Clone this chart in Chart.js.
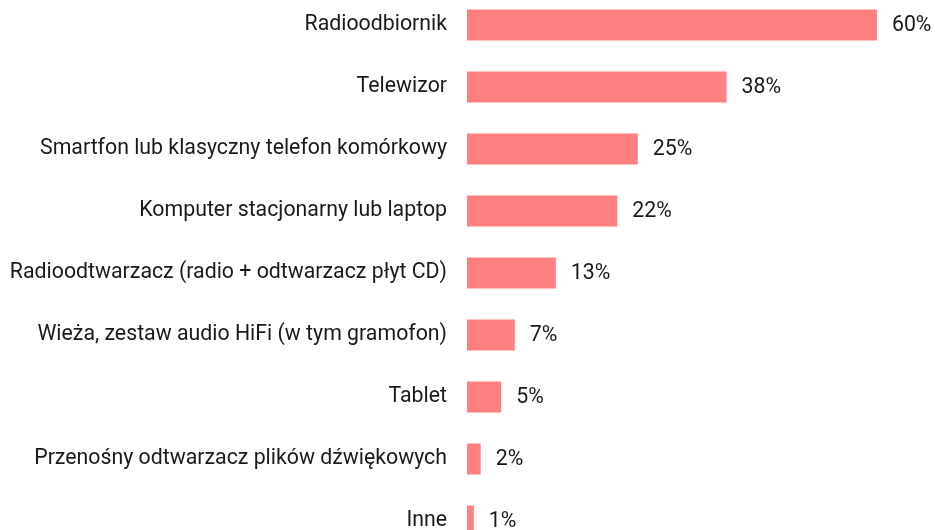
<!DOCTYPE html>
<html>
<head>
<meta charset="utf-8">
<script src="https://cdn.jsdelivr.net/npm/chart.js@4"></script>
<style>
  html, body { margin: 0; padding: 0; background: #fff; overflow: hidden; width: 935px; height: 530px; }
  #wrap { position: absolute; left: 0; top: -6.5px; width: 935px; height: 558px; }
  canvas { display: block; }
</style>
</head>
<body>
<div id="wrap"><canvas id="chart" width="935" height="558"></canvas></div>
<script>
const categories = [
  'Radioodbiornik',
  'Telewizor',
  'Smartfon lub klasyczny telefon komórkowy',
  'Komputer stacjonarny lub laptop',
  'Radioodtwarzacz (radio + odtwarzacz płyt CD)',
  'Wieża, zestaw audio HiFi (w tym gramofon)',
  'Tablet',
  'Przenośny odtwarzacz plików dźwiękowych',
  'Inne'
];
const shares = [60, 38, 25, 22, 13, 7, 5, 2, 1];

const BAR_COLOR = '#FF8080';
const TEXT_COLOR = '#1a1a1a';
const FONT = 'Roboto, "Noto Sans", sans-serif';
const FONT_SIZE = 21.3;

// draws "NN%" right after each bar end
const valueLabels = {
  id: 'valueLabels',
  afterDatasetsDraw(chart) {
    const ctx = chart.ctx;
    const meta = chart.getDatasetMeta(0);
    ctx.save();
    ctx.font = FONT_SIZE + 'px ' + FONT;
    ctx.fillStyle = TEXT_COLOR;
    ctx.textAlign = 'left';
    ctx.textBaseline = 'middle';
    meta.data.forEach((bar, i) => {
      ctx.fillText(shares[i] + '%', bar.x + 15, bar.y + 1);
    });
    ctx.restore();
  }
};

new Chart(document.getElementById('chart'), {
  type: 'bar',
  data: {
    labels: categories,
    datasets: [{
      data: shares,
      backgroundColor: BAR_COLOR,
      borderWidth: 0,
      barPercentage: 1,
      categoryPercentage: 0.5
    }]
  },
  options: {
    indexAxis: 'y',
    responsive: false,
    animation: false,
    layout: { padding: 0 },
    scales: {
      x: { display: false, min: 0, max: 68.5 },
      y: {
        grid: { display: false },
        border: { display: false },
        ticks: { color: TEXT_COLOR, font: { family: FONT, size: FONT_SIZE }, padding: 12 },
        afterFit(scale) {
          scale.width = 467;
          scale.paddingTop = 0;
          scale.paddingBottom = 0;
        }
      }
    },
    plugins: { legend: { display: false }, tooltip: { enabled: false } }
  },
  plugins: [valueLabels]
});
</script>
</body>
</html>
